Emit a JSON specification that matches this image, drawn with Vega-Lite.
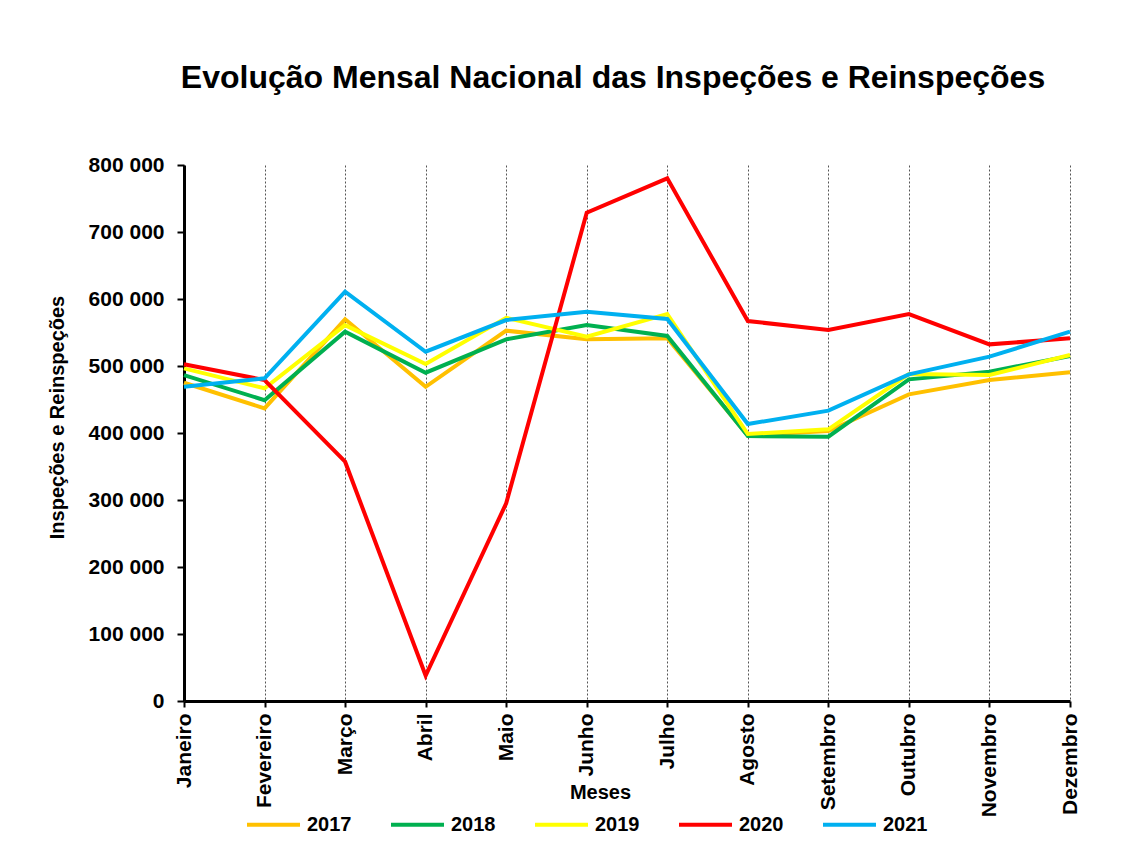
{
  "$schema": "https://vega.github.io/schema/vega-lite/v6.json",
  "width": 886,
  "height": 536,
  "autosize": {"type": "none"},
  "padding": {"left": 184, "top": 165, "right": 53, "bottom": 144},
  "background": "white",
  "config": {
    "view": {"stroke": null},
    "font": "Liberation Sans"
  },
  "title": {
    "text": "Evolução Mensal Nacional das Inspeções e Reinspeções",
    "font": "Liberation Sans",
    "fontSize": 32,
    "fontWeight": "bold",
    "color": "black",
    "anchor": "middle",
    "dx": -14,
    "baseline": "alphabetic",
    "offset": 34
  },
  "data": {
    "values": [
      {"mes": "Janeiro", "ano": "2017", "valor": 475000},
      {"mes": "Fevereiro", "ano": "2017", "valor": 436800},
      {"mes": "Março", "ano": "2017", "valor": 569700},
      {"mes": "Abril", "ano": "2017", "valor": 469000},
      {"mes": "Maio", "ano": "2017", "valor": 552700},
      {"mes": "Junho", "ano": "2017", "valor": 539800},
      {"mes": "Julho", "ano": "2017", "valor": 541300},
      {"mes": "Agosto", "ano": "2017", "valor": 396500},
      {"mes": "Setembro", "ano": "2017", "valor": 403000},
      {"mes": "Outubro", "ano": "2017", "valor": 457700},
      {"mes": "Novembro", "ano": "2017", "valor": 479100},
      {"mes": "Dezembro", "ano": "2017", "valor": 490600},

      {"mes": "Janeiro", "ano": "2018", "valor": 486500},
      {"mes": "Fevereiro", "ano": "2018", "valor": 449000},
      {"mes": "Março", "ano": "2018", "valor": 551200},
      {"mes": "Abril", "ano": "2018", "valor": 490000},
      {"mes": "Maio", "ano": "2018", "valor": 539800},
      {"mes": "Junho", "ano": "2018", "valor": 561200},
      {"mes": "Julho", "ano": "2018", "valor": 544800},
      {"mes": "Agosto", "ano": "2018", "valor": 395500},
      {"mes": "Setembro", "ano": "2018", "valor": 394500},
      {"mes": "Outubro", "ano": "2018", "valor": 480100},
      {"mes": "Novembro", "ano": "2018", "valor": 491500},
      {"mes": "Dezembro", "ano": "2018", "valor": 514900},

      {"mes": "Janeiro", "ano": "2019", "valor": 496500},
      {"mes": "Fevereiro", "ano": "2019", "valor": 466700},
      {"mes": "Março", "ano": "2019", "valor": 561000},
      {"mes": "Abril", "ano": "2019", "valor": 503000},
      {"mes": "Maio", "ano": "2019", "valor": 572000},
      {"mes": "Junho", "ano": "2019", "valor": 543700},
      {"mes": "Julho", "ano": "2019", "valor": 577600},
      {"mes": "Agosto", "ano": "2019", "valor": 398500},
      {"mes": "Setembro", "ano": "2019", "valor": 405500},
      {"mes": "Outubro", "ano": "2019", "valor": 488000},
      {"mes": "Novembro", "ano": "2019", "valor": 486500},
      {"mes": "Dezembro", "ano": "2019", "valor": 516400},

      {"mes": "Janeiro", "ano": "2020", "valor": 502500},
      {"mes": "Fevereiro", "ano": "2020", "valor": 479000},
      {"mes": "Março", "ano": "2020", "valor": 357200},
      {"mes": "Abril", "ano": "2020", "valor": 38000},
      {"mes": "Maio", "ano": "2020", "valor": 295000},
      {"mes": "Junho", "ano": "2020", "valor": 728800},
      {"mes": "Julho", "ano": "2020", "valor": 780100},
      {"mes": "Agosto", "ano": "2020", "valor": 567100},
      {"mes": "Setembro", "ano": "2020", "valor": 553700},
      {"mes": "Outubro", "ano": "2020", "valor": 577600},
      {"mes": "Novembro", "ano": "2020", "valor": 532300},
      {"mes": "Dezembro", "ano": "2020", "valor": 541300},

      {"mes": "Janeiro", "ano": "2021", "valor": 469000},
      {"mes": "Fevereiro", "ano": "2021", "valor": 481600},
      {"mes": "Março", "ano": "2021", "valor": 611000},
      {"mes": "Abril", "ano": "2021", "valor": 521300},
      {"mes": "Maio", "ano": "2021", "valor": 568600},
      {"mes": "Junho", "ano": "2021", "valor": 581000},
      {"mes": "Julho", "ano": "2021", "valor": 570100},
      {"mes": "Agosto", "ano": "2021", "valor": 413400},
      {"mes": "Setembro", "ano": "2021", "valor": 433300},
      {"mes": "Outubro", "ano": "2021", "valor": 487600},
      {"mes": "Novembro", "ano": "2021", "valor": 513900},
      {"mes": "Dezembro", "ano": "2021", "valor": 551200}
    ]
  },
  "mark": {"type": "line", "strokeWidth": 4, "strokeJoin": "miter", "strokeCap": "butt"},
  "encoding": {
    "x": {
      "field": "mes",
      "type": "ordinal",
      "sort": ["Janeiro", "Fevereiro", "Março", "Abril", "Maio", "Junho", "Julho", "Agosto", "Setembro", "Outubro", "Novembro", "Dezembro"],
      "scale": {"type": "point", "padding": 0},
      "axis": {
        "title": "Meses",
        "titleFont": "Liberation Sans",
        "titleFontSize": 20,
        "titleFontWeight": "bold",
        "titleColor": "black",
        "titleX": 416,
        "titleY": 97,
        "titleBaseline": "alphabetic",
        "titleAlign": "center",
        "labelAngle": -90,
        "labelAlign": "right",
        "labelBaseline": "middle",
        "labelFont": "Liberation Sans",
        "labelFontSize": 21,
        "labelFontWeight": "bold",
        "labelColor": "black",
        "labelPadding": 6,
        "labelOverlap": false,
        "tickSize": 6,
        "tickWidth": 2,
        "tickColor": "black",
        "domainWidth": 3,
        "domainColor": "black",
        "grid": true,
        "gridDash": [2, 2],
        "gridColor": "#555555",
        "gridWidth": 1
      }
    },
    "y": {
      "field": "valor",
      "type": "quantitative",
      "scale": {"domain": [0, 800000], "nice": false},
      "axis": {
        "values": [0, 100000, 200000, 300000, 400000, 500000, 600000, 700000, 800000],
        "labelExpr": "replace(format(datum.value, ','), ',', ' ')",
        "title": "Inspeções e Reinspeções",
        "titleFont": "Liberation Sans",
        "titleFontSize": 20,
        "titleFontWeight": "bold",
        "titleColor": "black",
        "titleAngle": -90,
        "titleX": -121,
        "titleY": 252,
        "titleAlign": "center",
        "titleBaseline": "alphabetic",
        "labelFont": "Liberation Sans",
        "labelFontSize": 21,
        "labelFontWeight": "bold",
        "labelColor": "black",
        "labelPadding": 13,
        "tickSize": 7,
        "tickWidth": 2,
        "tickColor": "black",
        "domainWidth": 3,
        "domainColor": "black",
        "grid": false
      }
    },
    "color": {
      "field": "ano",
      "type": "nominal",
      "scale": {
        "domain": ["2017", "2018", "2019", "2020", "2021"],
        "range": ["#FFC000", "#00B050", "#FFFF00", "#FF0000", "#00B0F0"]
      },
      "legend": {
        "title": null,
        "orient": "none",
        "direction": "horizontal",
        "legendX": 61,
        "legendY": 631,
        "padding": 0,
        "symbolType": "stroke",
        "symbolSize": 2809,
        "symbolStrokeWidth": 4,
        "labelFont": "Liberation Sans",
        "labelFontSize": 20,
        "labelFontWeight": "bold",
        "labelColor": "black",
        "labelOffset": 5,
        "columnPadding": 31
      }
    }
  }
}
